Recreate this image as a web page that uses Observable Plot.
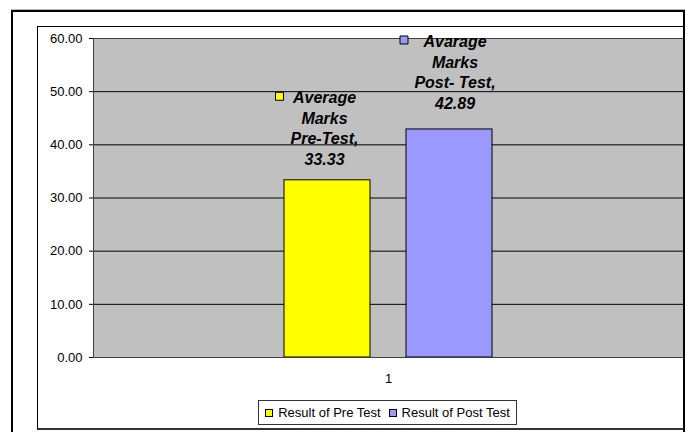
<!DOCTYPE html>
<html><head><meta charset="utf-8">
<script src="https://cdn.jsdelivr.net/npm/d3@7"></script>
<script src="https://cdn.jsdelivr.net/npm/@observablehq/plot@0.6"></script>
<style>
html,body{margin:0;padding:0;background:#fff;}
#wrap{position:relative;width:685px;height:432px;overflow:hidden;font-family:"Liberation Sans",Arial,sans-serif;}
#chart{position:absolute;left:0;top:0;}
#chart svg{background:transparent;}
.topline{position:absolute;left:11px;top:9px;width:674px;height:0;border-top:1px solid #bbb;pointer-events:none;}
.outer{position:absolute;left:11px;top:10px;width:674px;height:440px;border:2px solid #000;box-sizing:border-box;pointer-events:none;}
.inner{position:absolute;left:37px;top:26px;width:647px;height:404px;border:1px solid #000;border-bottom:2px solid #333;box-sizing:border-box;pointer-events:none;}
#legendbox{position:absolute;left:258px;top:400px;width:259px;height:25px;box-sizing:border-box;border:1px solid #333;display:flex;align-items:center;justify-content:center;background:#fff;}
#legendbox > div{margin:0 !important;padding:0 !important;font-family:"Liberation Sans",Arial,sans-serif !important;font-size:13px !important;color:#000 !important;display:flex !important;align-items:center !important;min-height:0 !important;}
#legendbox span{display:inline-flex !important;align-items:center !important;margin-right:8px !important;font-size:13px !important;line-height:15px !important;}
#legendbox span:last-child{margin-right:0 !important;}
#legendbox svg{margin-right:5px !important;outline:1px solid #000;outline-offset:-1px;}
</style>
</head>
<body>
<div id="wrap">
  <div id="chart"></div>
  <div class="topline"></div>
  <div class="outer"></div>
  <div class="inner"></div>
  <div id="legendbox"></div>
</div>
<script>
// ---- data ----
const categories = ["1"];
const series = ["Result of Pre Test", "Result of Post Test"];
const values = [33.33, 42.89];
const colors = ["#FFFF00", "#9999FF"];
const labelWords = [["Average", "Marks", "Pre-Test,"], ["Avarage", "Marks", "Post- Test,"]];
const yTicks = [0, 10, 20, 30, 40, 50, 60];

// ---- table built from arrays ----
const data = series.map((s, i) => ({
  category: categories[0],
  series: s,
  value: values[i],
  label: [...labelWords[i], values[i].toFixed(2)].join("\n")
}));

// label placement (styling offsets, per data label)
const labelPos = [
  {dx: -3, dy: -91.5, kdx: -48, kdy: -84},
  {dx: 5.5, dy: -96.7, kdx: -45.5, kdy: -89.5}
];

const font = "'Liberation Sans', Arial, sans-serif";

const chart = Plot.plot({
  width: 685,
  height: 432,
  marginTop: 38,
  marginLeft: 93,
  marginRight: 2,
  marginBottom: 75,
  style: {background: "transparent", fontFamily: font, fontSize: "13px", color: "#000"},
  fx: {domain: categories, padding: 0, label: null},
  x: {domain: series, paddingInner: 0.293, paddingOuter: 1.545, axis: null},
  y: {domain: [0, 60], label: null},
  color: {domain: series, range: colors},
  marks: [
    Plot.frame({fill: "#c0c0c0"}),
    Plot.gridY(yTicks, {stroke: "#000", strokeOpacity: 1}),
    Plot.axisY(yTicks, {tickFormat: d3.format(".2f"), tickSize: 4, tickPadding: 7, stroke: "#000", fill: "#000", label: null}),
    Plot.axisFx({anchor: "bottom", tickSize: 0, tickPadding: 16, label: null, fill: "#000"}),
    Plot.barY(data, {fx: "category", x: "series", y: "value", fill: "series", stroke: "#000", inset: 0}),
    Plot.frame({stroke: "#404040"}),
    ...data.map((d, i) => Plot.text([d], {
      fx: "category", x: "series", y: "value", text: "label",
      lineAnchor: "top", lineHeight: 1.28,
      fontSize: 16, fontWeight: "bold", fontStyle: "italic", fontFamily: font,
      fill: "#000", dx: labelPos[i].dx, dy: labelPos[i].dy
    })),
    ...data.map((d, i) => Plot.dot([d], {
      fx: "category", x: "series", y: "value",
      symbol: "square", r: 4.5, fill: "series", stroke: "#000", strokeWidth: 1,
      dx: labelPos[i].kdx, dy: labelPos[i].kdy
    }))
  ]
});
document.getElementById("chart").appendChild(chart);

const legend = Plot.legend({
  color: {type: "ordinal", domain: series, range: colors},
  legend: "swatches",
  swatchSize: 8,
  className: "lg"
});
document.getElementById("legendbox").appendChild(legend);
</script>
</body></html>
